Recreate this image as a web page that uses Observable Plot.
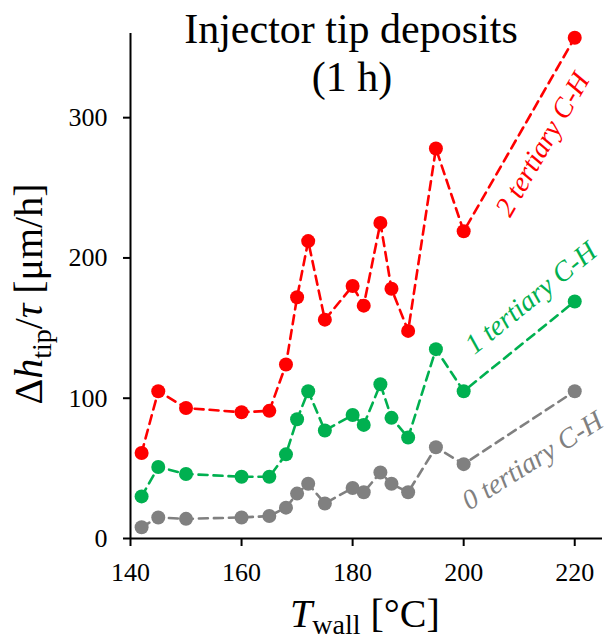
<!DOCTYPE html>
<html>
<head>
<meta charset="utf-8">
<script src="https://cdn.jsdelivr.net/npm/d3@7"></script>
<script src="https://cdn.jsdelivr.net/npm/@observablehq/plot@0.6"></script>
<style>
  html, body { margin: 0; padding: 0; background: #fff; }
  #chart svg { display: block; }
  #chart svg, #chart svg text { font-family: "Liberation Serif", "Times New Roman", Times, serif !important; }
</style>
</head>
<body>
<div id="chart"></div>
<script>
// ---- data ----
const temps = [142, 145, 150, 160, 165, 168, 170, 172, 175, 180, 182, 185, 187, 190, 195, 200, 220];
const tertiary2 = [61, 105, 93, 90, 91, 124, 172, 212, 156, 180, 166, 225, 178, 148, 278, 219, 357];
const tertiary1 = [30, 51, 46, 44, 44, 60, 85, 105, 77, 88, 81, 110, 86, 72, 135, 105, 169];
const tertiary0 = [8, 15, 14, 15, 16, 22, 32, 39, 25, 36, 33, 47, 39, 33, 65, 53, 105];
const seriesNames = ["2 tertiary C-H", "1 tertiary C-H", "0 tertiary C-H"];
const seriesColors = ["#ff0000", "#00b050", "#808080"];
const labelX = [214.2, 212.1, 212.4];
const labelY = [281, 171.5, 55.5];
const labelAngle = [-60, -39, -32];
const xTicks = [140, 160, 180, 200, 220];
const yTicks = [0, 100, 200, 300];
const titleLines = ["Injector tip deposits", "(1 h)"];

const seriesValues = [tertiary2, tertiary1, tertiary0];
const rows = [];
seriesNames.forEach((name, i) => {
  temps.forEach((t, j) => rows.push({series: name, T: t, v: seriesValues[i][j]}));
});
const labels = seriesNames.map((name, i) => ({series: name, x: labelX[i], y: labelY[i], a: labelAngle[i]}));

const serif = "Liberation Serif, Times New Roman, Times, serif";

const plot = Plot.plot({
  width: 607,
  height: 641,
  marginLeft: 130,
  marginRight: 5,
  marginTop: 33,
  marginBottom: 103,
  style: {fontFamily: serif, color: "#000", background: "#fff"},
  x: {domain: [140, 225]},
  y: {domain: [0, 360]},
  color: {domain: seriesNames, range: seriesColors},
  marks: [
    Plot.axisX({ticks: xTicks, tickSize: 8, tickPadding: 16, fontSize: 26, fontFamily: serif, strokeWidth: 2, label: null}),
    Plot.axisY({ticks: yTicks, tickSize: 7, tickPadding: 16, fontSize: 26, fontFamily: serif, strokeWidth: 2, label: null}),
    Plot.ruleX([140], {y1: 0, y2: 360, stroke: "#000", strokeWidth: 2}),
    Plot.ruleY([0], {stroke: "#000", strokeWidth: 2}),
    Plot.line(rows, {x: "T", y: "v", z: "series", stroke: "series", strokeWidth: 2.6, strokeDasharray: "9,6", curve: "linear"}),
    Plot.dot(rows, {x: "T", y: "v", fill: "series", r: 7, stroke: null}),
    Plot.text(labels, {x: "x", y: "y", text: "series", fill: "series", rotate: "a", fontSize: 28, fontFamily: serif, fontStyle: "italic", textAnchor: "middle", lineAnchor: "middle"})
  ]
});

document.getElementById("chart").appendChild(plot);

// titles and axis labels (with subscripts)
const svg = d3.select(plot);
const g = svg.append("g").attr("font-family", serif).attr("fill", "#000");

g.append("text").attr("x", 351).attr("y", 43).attr("text-anchor", "middle").attr("font-size", 42).text(titleLines[0]);
g.append("text").attr("x", 352).attr("y", 91).attr("text-anchor", "middle").attr("font-size", 42).text(titleLines[1]);

const yl = g.append("text").attr("transform", "translate(42,294) rotate(-90)").attr("text-anchor", "middle").attr("font-size", 40);
yl.append("tspan").text("Δ");
yl.append("tspan").attr("font-style", "italic").text("h");
yl.append("tspan").attr("font-size", 28).attr("dy", 9).text("tip");
yl.append("tspan").attr("dy", -9).text("/");
yl.append("tspan").attr("font-style", "italic").text("τ");
yl.append("tspan").text(" [μm/h]");

const xl = g.append("text").attr("x", 290).attr("y", 627).attr("text-anchor", "start").attr("font-size", 40);
xl.append("tspan").attr("font-style", "italic").text("T");
xl.append("tspan").attr("font-size", 28).attr("dy", 7).text("wall");
xl.append("tspan").attr("dy", -7).text(" [°C]");
</script>
</body>
</html>
